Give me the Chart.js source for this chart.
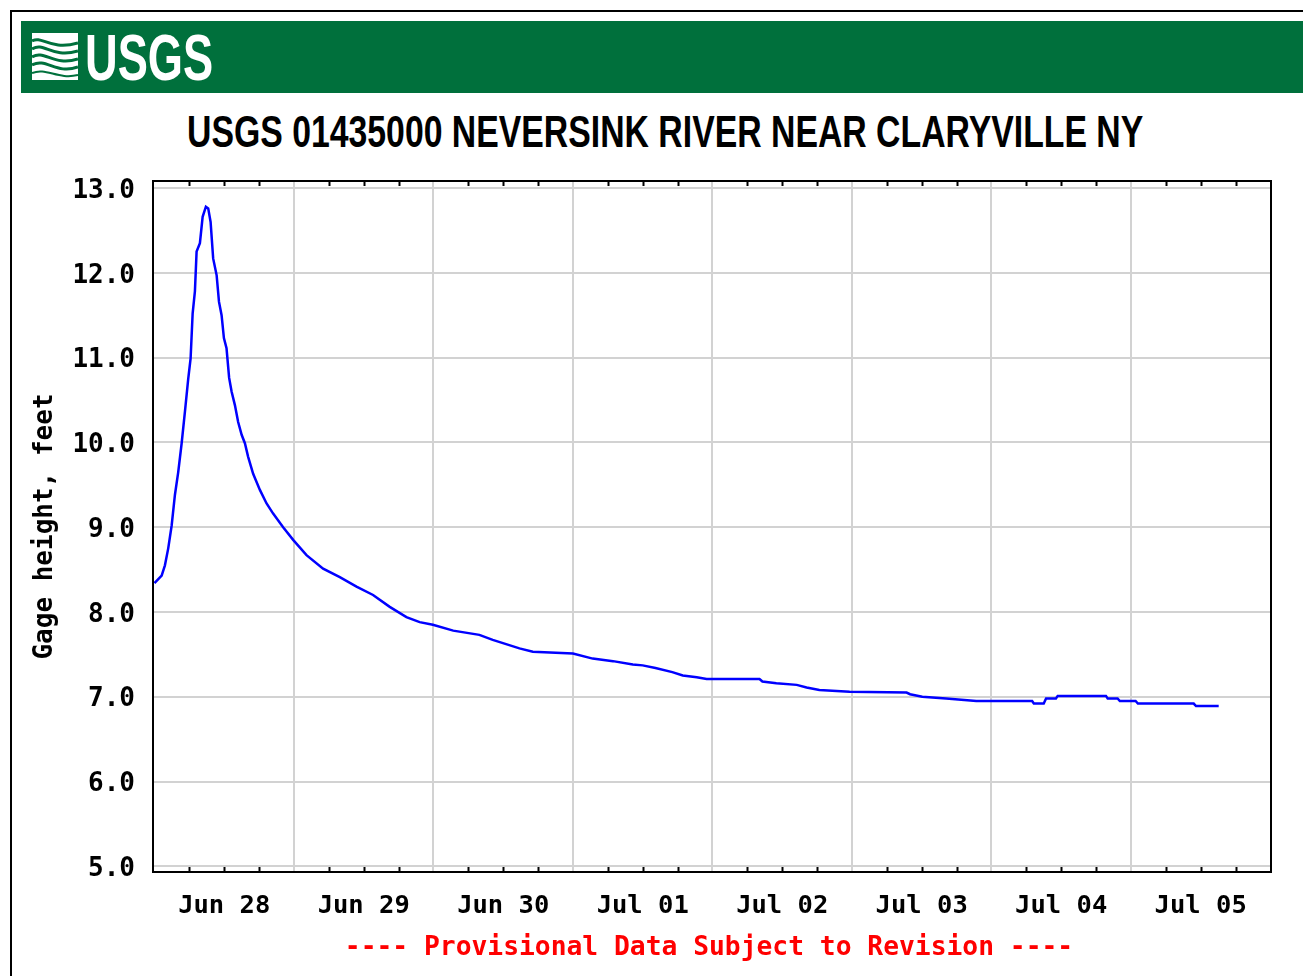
<!DOCTYPE html>
<html>
<head>
<meta charset="utf-8">
<title>USGS 01435000 Neversink River near Claryville NY</title>
<script src="https://cdn.jsdelivr.net/npm/chart.js@4.4.1/dist/chart.umd.min.js"></script>
<style>
  html, body { margin: 0; padding: 0; background: #fff; overflow: hidden; }
  body { width: 1303px; height: 976px; position: relative; }
  #frame { position: absolute; left: 10px; top: 10px; width: 1400px; height: 1100px; border: 2px solid #000; }
  #banner { position: absolute; left: 21px; top: 21px; width: 1300px; height: 72px; background: #00703c; }
  #logoIcon { position: absolute; left: 32px; top: 33px; }
  .narrow { font-family: "Liberation Sans Narrow", "Liberation Sans", Arial, sans-serif; font-weight: bold; white-space: nowrap; position: absolute; transform-origin: 0 0; }
  #logoText { left: 85px; top: 26px; font-size: 64px; line-height: 64px; color: #fff; }
  #title { left: 187px; top: 110px; font-size: 44px; line-height: 44px; color: #000; }
  #footer { position: absolute; left: 0; width: 1418px; top: 933px; text-align: center; color: #ff0000;
            font-family: "DejaVu Sans Mono", monospace; font-weight: bold; font-size: 26.3px; line-height: 26px; white-space: pre; }
  #chart { position: absolute; left: 0; top: 0; }
</style>
</head>
<body>
<div id="frame"></div>
<div id="banner"></div>
<svg id="logoIcon" width="46" height="47" viewBox="0 0 46 47">
  <rect x="0" y="0" width="46" height="47" fill="#fff"/>
  <path d="M0 8 C10 2, 18 18, 46 10" stroke="#00703c" stroke-width="3" fill="none"/>
  <path d="M0 16 C12 8, 20 26, 46 18" stroke="#00703c" stroke-width="3" fill="none"/>
  <path d="M0 24 C12 16, 22 34, 46 26" stroke="#00703c" stroke-width="3" fill="none"/>
  <path d="M0 32 C14 24, 24 42, 46 34" stroke="#00703c" stroke-width="3" fill="none"/>
  <path d="M0 40 C14 34, 26 47, 46 42" stroke="#00703c" stroke-width="2" fill="none"/>
</svg>
<div id="logoText" class="narrow">USGS</div>
<div id="title" class="narrow">USGS 01435000 NEVERSINK RIVER NEAR CLARYVILLE NY</div>
<canvas id="chart" width="1303" height="976"></canvas>
<div id="footer">---- Provisional Data Subject to Revision ----</div>
<script>
// squeeze the narrow headings to the widths seen on the original
function fitWidth(id, w) {
    var el = document.getElementById(id);
    el.style.transform = 'scaleX(' + (w / el.offsetWidth) + ')';
}
fitWidth('logoText', 128);
fitWidth('title', 956);

// --- data: hours since Jun 28 00:00 and gage height (ft) ---
const hours = [0.0, 1.24, 1.8, 2.37, 2.96, 3.52, 4.09, 4.68, 5.24, 5.81, 6.22, 6.57, 6.96, 7.25, 7.82, 8.29, 8.85, 9.25, 9.66,
    10.1, 10.7, 11.1, 11.55, 11.95, 12.4, 12.85, 13.27, 13.84, 14.4, 15.0, 15.56, 16.12, 16.98, 18.14, 19.29, 20.42, 22.14,
    23.86, 26.16, 29.02, 31.89, 34.76, 37.61, 40.48, 43.35, 45.63, 47.9, 51.4, 55.9, 58.2, 62.8, 65.1, 72.0, 75.4, 78.9, 82.3,
    84.0, 86.2, 89.1, 90.9, 93.3, 95.0, 104.1, 104.6, 107.0, 110.5, 112.2, 114.4, 119.6, 129.4, 130.0, 132.1, 136.2, 141.4,
    151.0, 151.3, 153.0, 153.4, 155.1, 155.4, 163.7, 164.0, 165.7, 166.1, 168.8, 169.2, 178.8, 179.2, 183.1];
const gageHeight = [8.34, 8.43, 8.55, 8.75, 9.02, 9.38, 9.65, 9.99, 10.36, 10.75, 10.99, 11.52, 11.78, 12.25, 12.35, 12.66, 12.78, 12.76, 12.60,
    12.17, 11.97, 11.66, 11.50, 11.23, 11.11, 10.76, 10.60, 10.44, 10.24, 10.09, 9.99, 9.83, 9.63, 9.44, 9.28, 9.16, 9.00,
    8.85, 8.67, 8.51, 8.41, 8.30, 8.20, 8.06, 7.94, 7.88, 7.85, 7.78, 7.73, 7.67, 7.57, 7.53, 7.51, 7.45, 7.42, 7.38,
    7.37, 7.34, 7.29, 7.25, 7.23, 7.21, 7.21, 7.18, 7.16, 7.14, 7.11, 7.08, 7.06, 7.05, 7.03, 7.00, 6.98, 6.95,
    6.95, 6.92, 6.92, 6.98, 6.98, 7.01, 7.01, 6.98, 6.98, 6.95, 6.95, 6.92, 6.92, 6.89, 6.89];

const dayLabels = ['Jun 28', 'Jun 29', 'Jun 30', 'Jul 01', 'Jul 02', 'Jul 03', 'Jul 04', 'Jul 05'];
const tickHours = [0, 6, 12, 18, 24, 30, 36, 42, 48, 54, 60, 66, 72, 78, 84, 90, 96, 102, 108, 114, 120, 126, 132, 138,
    144, 150, 156, 162, 168, 174, 180, 186, 192];
const yTicks = [5, 6, 7, 8, 9, 10, 11, 12, 13];

// box round the plot + small 6-hour tick marks top and bottom
const plotFrame = {
    id: 'plotFrame',
    afterDraw: function(chart) {
        const ctx = chart.ctx, a = chart.chartArea, x = chart.scales.x;
        ctx.save();
        ctx.strokeStyle = '#000';
        ctx.lineWidth = 2;
        ctx.beginPath();
        tickHours.forEach(function(h) {
            if (h % 24 === 0) return;
            const px = Math.round(x.getPixelForValue(h)) + 0.5;
            ctx.moveTo(px, a.top);
            ctx.lineTo(px, a.top + 5);
            ctx.moveTo(px, a.bottom);
            ctx.lineTo(px, a.bottom - 5);
        });
        ctx.stroke();
        ctx.strokeRect(a.left, a.top, a.right - a.left, a.bottom - a.top);
        ctx.restore();
    }
};

Chart.defaults.font.family = "'DejaVu Sans Mono', monospace";
Chart.defaults.font.weight = 'bold';
Chart.defaults.color = '#000';

new Chart(document.getElementById('chart'), {
    type: 'line',
    data: {
        datasets: [{
            data: hours.map(function(h, i) { return { x: h, y: gageHeight[i] }; }),
            borderColor: '#0000ff',
            borderWidth: 2.5,
            pointRadius: 0,
            tension: 0,
            fill: false
        }]
    },
    options: {
        responsive: false,
        animation: false,
        layout: { padding: { left: 0, top: 181, right: 32, bottom: 44 } },
        plugins: { legend: { display: false }, tooltip: { enabled: false } },
        scales: {
            x: {
                type: 'linear',
                min: -0.25,
                max: 192.1,
                afterBuildTicks: function(scale) {
                    scale.ticks = tickHours.map(function(v) { return { value: v }; });
                },
                afterFit: function(scale) { scale.height = 60; },
                ticks: {
                    autoSkip: false,
                    maxRotation: 0,
                    padding: 19,
                    font: { size: 25.5 },
                    callback: function(value) {
                        return value % 24 === 12 ? dayLabels[(value - 12) / 24] : '';
                    }
                },
                grid: {
                    drawTicks: false,
                    lineWidth: 2,
                    color: function(c) {
                        const v = c.tick ? c.tick.value : 0;
                        return (v % 24 === 0 && v > 0 && v < 192) ? '#d2d2d2' : 'rgba(0,0,0,0)';
                    }
                },
                border: { display: false }
            },
            y: {
                min: 4.933,
                max: 13.083,
                afterBuildTicks: function(scale) {
                    scale.ticks = yTicks.map(function(v) { return { value: v }; });
                },
                afterFit: function(scale) { scale.width = 153; },
                ticks: {
                    padding: 18,
                    labelOffset: 3,
                    font: { size: 26 },
                    callback: function(value) { return value.toFixed(1); }
                },
                grid: { drawTicks: false, lineWidth: 2, color: '#d2d2d2' },
                border: { display: false },
                title: {
                    display: true,
                    text: 'Gage height, feet',
                    font: { size: 26, weight: 'bold' },
                    padding: { top: 30, bottom: 0 }
                }
            }
        }
    },
    plugins: [plotFrame]
});
</script>
</body>
</html>
